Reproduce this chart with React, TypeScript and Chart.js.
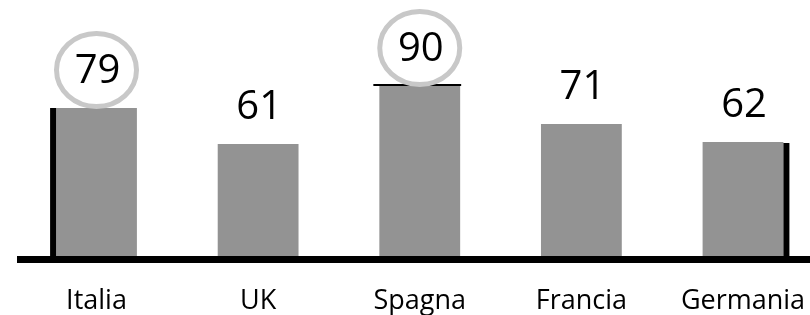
import React, { useEffect, useRef } from "react";
import { Chart, registerables } from "chart.js";

Chart.register(...registerables);

const categories = ["Italia", "UK", "Spagna", "Francia", "Germania"];
const values = [79, 61, 90, 71, 62];
const circled = [true, false, true, false, false];

const BAR_COLOR = "#939393";
const FONT = "'Open Sans', Lato, sans-serif";

const decorPlugin = {
  id: "decor",
  afterDatasetsDraw(chart: any) {
    const ctx = chart.ctx;
    const meta = chart.getDatasetMeta(0);
    const area = chart.chartArea;
    const els = meta.data;
    ctx.save();
    // shadow edges
    ctx.fillStyle = "#000";
    const first = els[0];
    const fw = first.width;
    ctx.fillRect(first.x - fw / 2 - 6, first.y, 6, area.bottom - first.y);
    const last = els[els.length - 1];
    ctx.fillRect(last.x + last.width / 2, last.y + 1, 6, area.bottom - last.y - 1);
    const mid = els[2];
    ctx.fillRect(mid.x - mid.width / 2 - 6, mid.y - 2, mid.width + 7, 2);
    // baseline
    ctx.fillRect(17, area.bottom, chart.width - 17, 7);
    // labels
    ctx.font = `40px ${FONT}`;
    ctx.textAlign = "center";
    ctx.textBaseline = "alphabetic";
    els.forEach((el: any, i: number) => {
      ctx.fillStyle = "#000";
      ctx.fillText(String(values[i]), el.x + 1, el.y - 25);
      if (circled[i]) {
        ctx.beginPath();
        ctx.ellipse(el.x, el.y - 38, 40, 36.5, 0, 0, Math.PI * 2);
        ctx.lineWidth = 5;
        ctx.strokeStyle = "#c8c8c8";
        ctx.stroke();
      }
    });
    ctx.restore();
  },
};

export default function App() {
  const ref = useRef<HTMLCanvasElement>(null);
  useEffect(() => {
    if (!ref.current) return;
    const chart = new Chart(ref.current, {
      type: "bar",
      data: {
        labels: categories,
        datasets: [
          {
            data: values,
            base: 5,
            backgroundColor: BAR_COLOR,
            barPercentage: 0.5,
            categoryPercentage: 1,
            clip: false as any,
          },
        ],
      },
      options: {
        animation: false,
        responsive: false,
        layout: { padding: { left: 96.5, right: 67, top: 66, bottom: 0 } },
        plugins: { legend: { display: false }, tooltip: { enabled: false } },
        scales: {
          x: {
            offset: false,
            grid: { display: false, drawTicks: false },
            border: { display: false },
            ticks: {
              padding: 29,
              color: "#000",
              font: { family: FONT, size: 27 },
              maxRotation: 0,
              autoSkip: false,
            },
            afterFit: (s: any) => {
              s.height = 59;
              s.paddingLeft = 0;
              s.paddingRight = 0;
            },
          },
          y: {
            display: false,
            min: 5,
            max: 100,
          },
        },
      },
      plugins: [decorPlugin],
    });
    return () => chart.destroy();
  }, []);
  return (
    <div style={{ position: "fixed", left: 0, top: 0, width: 810, height: 315, background: "#fff" }}>
      <canvas ref={ref} width={810} height={315} style={{ display: "block" }} />
    </div>
  );
}
